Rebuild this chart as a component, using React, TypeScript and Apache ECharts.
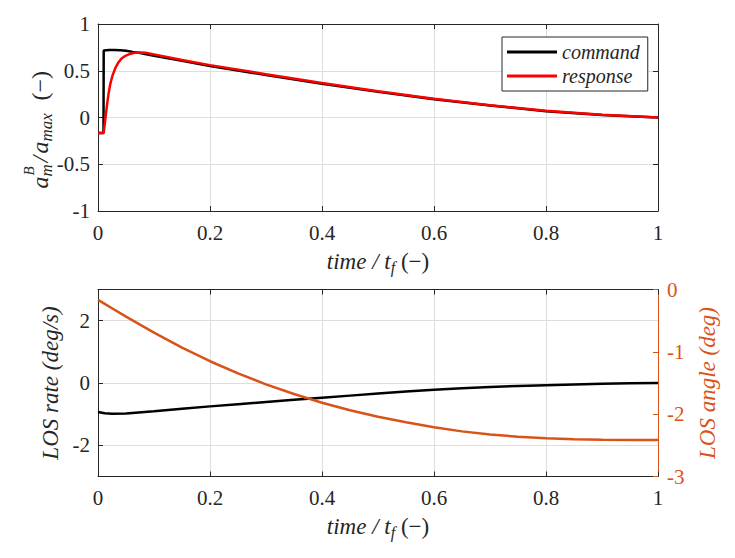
import { useEffect, useRef } from 'react';
import * as echarts from 'echarts';

const SERIF = "'Liberation Serif'";
const INK = '#262626';
const GRID_GRAY = '#dedede';
const ORANGE = '#d95319';

// top panel: normalised body acceleration a_m^B / a_max
const commandTime = [0, 0.0098, 0.0102, 0.02, 0.03, 0.04, 0.05, 0.062, 0.075, 0.1, 0.15, 0.2, 0.3, 0.4, 0.5, 0.6, 0.7, 0.8, 0.9, 1];
const commandValue = [-0.165, -0.165, 0.716, 0.722, 0.722, 0.72, 0.714, 0.702, 0.69, 0.66, 0.606, 0.55, 0.455, 0.36, 0.275, 0.195, 0.128, 0.068, 0.027, 0];
const responseTime = [0, 0.0102, 0.013, 0.016, 0.019, 0.022, 0.026, 0.031, 0.036, 0.042, 0.049, 0.057, 0.065, 0.075, 0.085, 0.1, 0.15, 0.2, 0.3, 0.4, 0.5, 0.6, 0.7, 0.8, 0.9, 1];
const responseValue = [-0.165, -0.165, -0.02, 0.13, 0.26, 0.36, 0.45, 0.53, 0.585, 0.63, 0.66, 0.68, 0.692, 0.696, 0.692, 0.675, 0.616, 0.56, 0.463, 0.368, 0.281, 0.2, 0.131, 0.071, 0.029, 0];

// bottom panel: line-of-sight rate (deg/s) and angle (deg)
const losTime = [0, 0.012, 0.025, 0.05, 0.1, 0.15, 0.2, 0.25, 0.3, 0.35, 0.4, 0.45, 0.5, 0.55, 0.6, 0.65, 0.7, 0.75, 0.8, 0.85, 0.9, 0.95, 1];
const losRate = [-0.93, -0.97, -0.985, -0.975, -0.91, -0.83, -0.75, -0.68, -0.61, -0.54, -0.47, -0.405, -0.34, -0.275, -0.215, -0.165, -0.125, -0.095, -0.07, -0.045, -0.028, -0.012, 0];
const losAngle = [-0.166, -0.23, -0.3, -0.436, -0.691, -0.931, -1.151, -1.346, -1.521, -1.676, -1.816, -1.936, -2.041, -2.131, -2.211, -2.276, -2.326, -2.361, -2.386, -2.401, -2.411, -2.416, -2.416];

const rateTicks = [-2, 0, 2];

const pairs = (xs: number[], ys: number[]) => xs.map((x, i) => [x, ys[i]]);

const tickLabel = { fontFamily: SERIF, fontSize: 21, color: INK };

const timeName = {
  name: '{i|time / t}{s|f}{n| (\u2212)}',
  nameLocation: 'middle',
  nameGap: 36,
  nameTextStyle: {
    rich: {
      i: { fontFamily: SERIF, fontStyle: 'italic', fontSize: 23, color: INK, lineHeight: 28 },
      s: { fontFamily: SERIF, fontStyle: 'italic', fontSize: 16, color: INK, lineHeight: 16, verticalAlign: 'bottom' },
      n: { fontFamily: SERIF, fontSize: 23, color: INK, lineHeight: 28 },
    },
  },
};

function frameAxis(gridIndex: number, position: string, min: number, max: number, interval: number) {
  return {
    gridIndex,
    type: 'value',
    position,
    min,
    max,
    interval,
    axisLine: { show: true, onZero: false, lineStyle: { color: INK, width: 1 } },
    axisTick: { show: true, inside: true, length: 5, lineStyle: { color: INK } },
    axisLabel: { show: false },
    splitLine: { show: false },
  };
}

function timeAxis(gridIndex: number) {
  return {
    ...frameAxis(gridIndex, 'bottom', 0, 1, 0.2),
    axisLabel: { ...tickLabel, margin: 11 },
    splitLine: { show: true, lineStyle: { color: GRID_GRAY, width: 1 } },
    ...timeName,
  };
}

export default function App() {
  const chartRef = useRef<HTMLDivElement>(null);

  useEffect(() => {
    document.body.style.margin = '0';
    if (!chartRef.current) return;
    const chart = echarts.init(chartRef.current, null, { renderer: 'svg' });

    // pieces of the rotated a_m^B / a_max title
    const titleText = (text: string, x: number, y: number, size: number, italic = true) => ({
      type: 'text',
      x,
      y,
      style: {
        text,
        fill: INK,
        font: `${italic ? 'italic ' : ''}${size}px ${SERIF}`,
        textAlign: 'left',
        textVerticalAlign: 'middle',
      },
    });

    chart.setOption({
      animation: false,
      backgroundColor: '#fff',
      textStyle: { fontFamily: SERIF },
      grid: [
        { left: 98, top: 24, width: 560, height: 187 },
        { left: 98, top: 289.5, width: 560, height: 187 },
      ],
      legend: {
        data: ['command', 'response'],
        orient: 'vertical',
        left: 502,
        top: 37,
        icon: 'rect',
        itemWidth: 50,
        itemHeight: 3,
        itemGap: 4,
        padding: [5, 8, 5, 5],
        backgroundColor: '#fff',
        borderColor: INK,
        borderWidth: 1,
        borderRadius: 0,
        textStyle: { fontFamily: SERIF, fontStyle: 'italic', fontSize: 20, color: INK },
      },
      xAxis: [
        timeAxis(0),
        frameAxis(0, 'top', 0, 1, 0.2),
        timeAxis(1),
        frameAxis(1, 'top', 0, 1, 0.2),
      ],
      yAxis: [
        {
          ...frameAxis(0, 'left', -1, 1, 0.5),
          axisLabel: { ...tickLabel, margin: 8 },
          splitLine: { show: true, lineStyle: { color: GRID_GRAY, width: 1 } },
        },
        frameAxis(0, 'right', -1, 1, 0.5),
        {
          ...frameAxis(1, 'left', -3, 3, 1),
          axisTick: { show: true, inside: true, length: 5, lineStyle: { color: INK }, customValues: rateTicks },
          axisLabel: { ...tickLabel, margin: 8, customValues: rateTicks },
          splitLine: { show: true, lineStyle: { color: GRID_GRAY, width: 1 } },
          name: 'LOS rate (deg/s)',
          nameLocation: 'middle',
          nameRotate: 90,
          nameGap: 32,
          nameTextStyle: { fontFamily: SERIF, fontStyle: 'italic', fontSize: 23, color: INK },
        },
        {
          ...frameAxis(1, 'right', -3, 0, 1),
          axisLine: { show: true, onZero: false, lineStyle: { color: ORANGE, width: 1 } },
          axisTick: { show: true, inside: true, length: 5, lineStyle: { color: ORANGE } },
          axisLabel: { ...tickLabel, color: ORANGE, margin: 9 },
          name: 'LOS angle (deg)',
          nameLocation: 'middle',
          nameRotate: 90,
          nameGap: 38,
          nameTextStyle: { fontFamily: SERIF, fontStyle: 'italic', fontSize: 23, color: ORANGE },
        },
      ],
      graphic: [
        {
          type: 'group',
          x: 47,
          y: 127.5,
          rotation: Math.PI / 2,
          children: [
            titleText('a', -61, -7, 24),
            titleText('m', -49, -1, 17),
            titleText('B', -48, -18, 15),
            titleText('/', -35, -7, 24),
            titleText('a', -26, -7, 24),
            titleText('max', -14, -1, 17),
            titleText('(\u2212)', 27, -7, 24, false),
          ],
        },
      ],
      series: [
        {
          name: 'command',
          type: 'line',
          xAxisIndex: 0,
          yAxisIndex: 0,
          data: pairs(commandTime, commandValue),
          showSymbol: false,
          lineStyle: { color: '#000', width: 2.5 },
          itemStyle: { color: '#000' },
        },
        {
          name: 'response',
          type: 'line',
          xAxisIndex: 0,
          yAxisIndex: 0,
          data: pairs(responseTime, responseValue),
          showSymbol: false,
          lineStyle: { color: '#ff0000', width: 2.5 },
          itemStyle: { color: '#ff0000' },
        },
        {
          name: 'LOS rate',
          type: 'line',
          xAxisIndex: 2,
          yAxisIndex: 2,
          data: pairs(losTime, losRate),
          showSymbol: false,
          lineStyle: { color: '#000', width: 2.5 },
        },
        {
          name: 'LOS angle',
          type: 'line',
          xAxisIndex: 2,
          yAxisIndex: 3,
          data: pairs(losTime, losAngle),
          showSymbol: false,
          lineStyle: { color: ORANGE, width: 2.5 },
        },
      ],
    });

    return () => chart.dispose();
  }, []);

  return <div ref={chartRef} style={{ width: 735, height: 558, fontFamily: 'Liberation Serif' }} />;
}
